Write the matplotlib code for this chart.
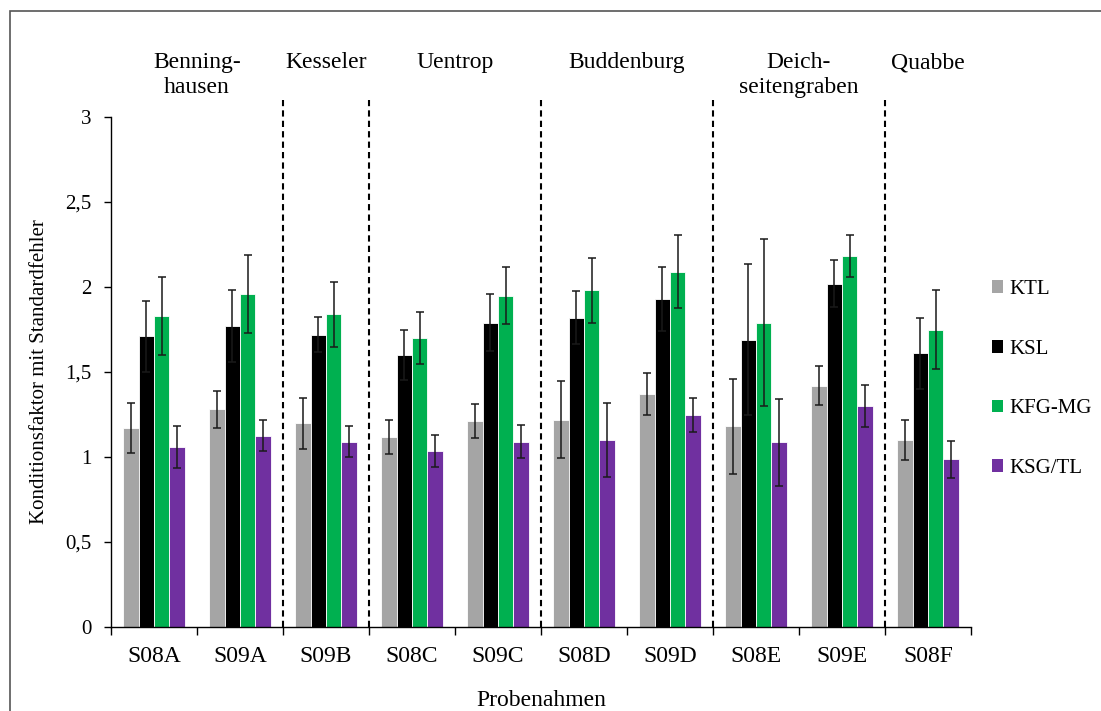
import matplotlib.pyplot as plt
import numpy as np
from matplotlib.patches import Rectangle, Patch

plt.rcParams['font.family'] = ['Liberation Serif', 'DejaVu Serif']

# sample codes and their river sections
samples = ["S08A", "S09A", "S09B", "S08C", "S09C", "S08D", "S09D", "S08E", "S09E", "S08F"]
sites = ["Benning-\nhausen", "Kesseler", "Uentrop", "Buddenburg", "Deich-\nseitengraben", "Quabbe"]
site_centers = [0.5, 2, 3.5, 5.5, 7.5, 9]
site_breaks = [1.5, 2.5, 4.5, 6.5, 8.5]

series = ["KTL", "KSL", "KFG-MG", "KSG/TL"]
colors = ["#A5A5A5", "#000000", "#00B050", "#7030A0"]

ktl = [1.17, 1.28, 1.20, 1.12, 1.21, 1.22, 1.37, 1.18, 1.42, 1.10]
ktl_err = [0.145, 0.11, 0.15, 0.10, 0.10, 0.227, 0.125, 0.28, 0.115, 0.116]
ksl = [1.71, 1.77, 1.72, 1.60, 1.79, 1.82, 1.93, 1.69, 2.02, 1.61]
ksl_err = [0.21, 0.21, 0.105, 0.147, 0.167, 0.157, 0.19, 0.445, 0.14, 0.21]
kfg = [1.83, 1.96, 1.84, 1.70, 1.95, 1.98, 2.09, 1.79, 2.18, 1.75]
kfg_err = [0.23, 0.23, 0.19, 0.155, 0.17, 0.19, 0.215, 0.49, 0.123, 0.23]
ksg = [1.06, 1.125, 1.09, 1.035, 1.09, 1.10, 1.247, 1.086, 1.30, 0.986]
ksg_err = [0.125, 0.09, 0.09, 0.095, 0.098, 0.22, 0.098, 0.255, 0.123, 0.107]

values = [ktl, ksl, kfg, ksg]
errors = [ktl_err, ksl_err, kfg_err, ksg_err]

fig = plt.figure(figsize=(11.01, 7.11), dpi=100)
ax = fig.add_axes([111 / 1101, 1 - 627 / 711, 860 / 1101, 510 / 711])

x = np.arange(len(samples))
width = 0.18
for i, (vals, errs, col) in enumerate(zip(values, errors, colors)):
    pos = x + (i - 1.5) * width
    ax.bar(pos, vals, width, color=col, edgecolor="white", linewidth=0.6, label=series[i], zorder=2)
    ax.errorbar(pos, vals, yerr=errs, fmt="none", ecolor="#1a1a1a", elinewidth=1.1,
                capsize=3, capthick=1.1, zorder=3)

# dashed separators between sampling sites
for b in site_breaks:
    ax.plot([b, b], [0, 3.1], color="black", lw=1.5, ls=(0, (3, 2)), clip_on=False, zorder=1)

for c, s in zip(site_centers, sites):
    ax.text(c, 3.38, s, ha="center", va="top", fontsize=17, linespacing=1.2)

ax.set_xlim(-0.5, len(samples) - 0.5)
ax.set_ylim(0, 3)
ax.set_yticks(np.arange(0, 3.01, 0.5))
ax.set_yticklabels(["0", "0,5", "1", "1,5", "2", "2,5", "3"])
ax.set_xticks(x)
ax.set_xticklabels(samples)
ax.set_xticks(np.arange(-0.5, len(samples)), minor=True)
ax.tick_params(axis="x", which="major", length=0, pad=13.5, labelsize=17)
ax.tick_params(axis="x", which="minor", length=6, width=1)
ax.tick_params(axis="y", length=5, width=1, labelsize=15, pad=9)

for side in ["top", "right"]:
    ax.spines[side].set_visible(False)
for side in ["left", "bottom"]:
    ax.spines[side].set_linewidth(1)

ax.set_xlabel("Probenahmen", fontsize=17, labelpad=17)
ax.set_ylabel("Konditionsfaktor mit Standardfehler", fontsize=15, labelpad=12)

handles = [Patch(facecolor=c, edgecolor="none") for c in colors]
fig.legend(handles, series, loc="center left", bbox_to_anchor=(973 / 1101, 1 - 379 / 711),
           frameon=False, fontsize=15, handlelength=0.55, handleheight=0.55,
           handletextpad=0.3, labelspacing=1.95)

# chart area border
fig.patches.append(Rectangle((10 / 1101, -0.05), 1.1, 1.05 - 11 / 711,
                             transform=fig.transFigure, fill=False,
                             edgecolor="#555555", lw=1.2))

fig.savefig("out.png", dpi=100)
